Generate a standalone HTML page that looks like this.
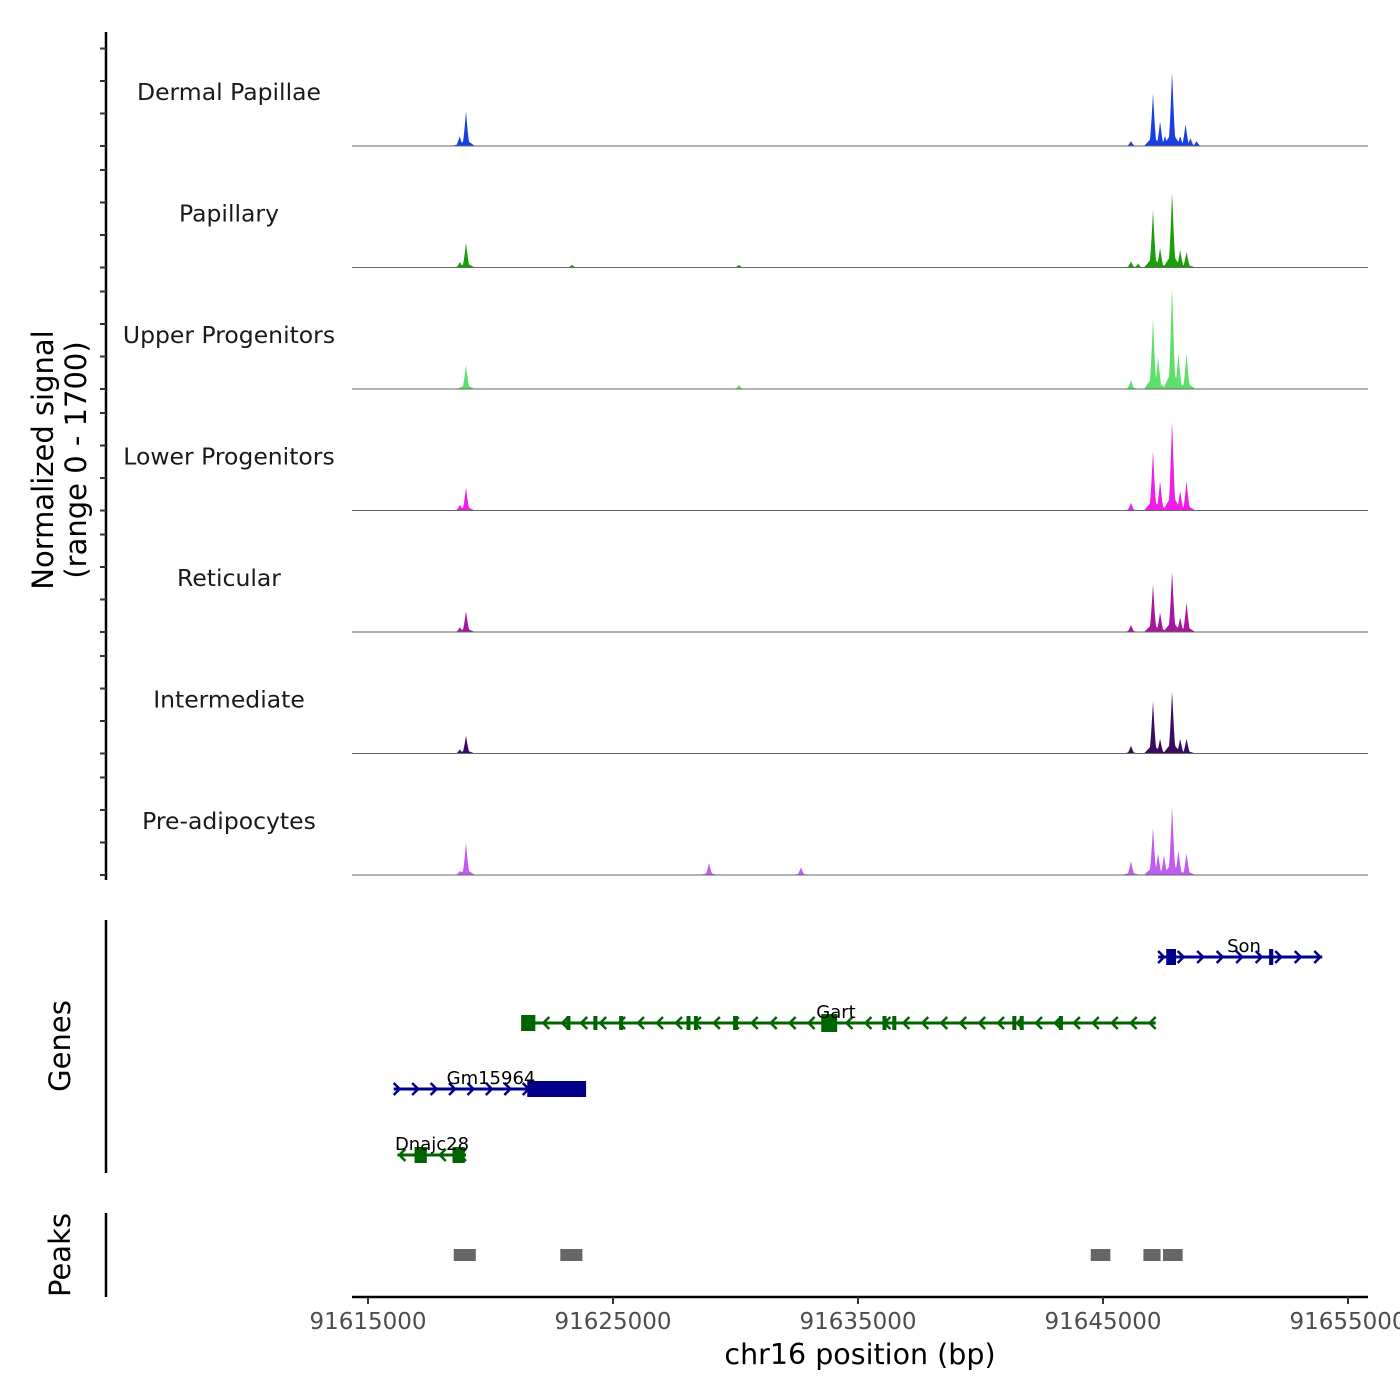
<!DOCTYPE html>
<html><head><meta charset="utf-8"><style>
body{margin:0;background:#fff}
svg{display:block;font-family:"DejaVu Sans","Liberation Sans",sans-serif}
</style></head><body>
<svg id="chart" width="1400" height="1400" viewBox="0 0 1400 1400"></svg>
<script>
const NS="http://www.w3.org/2000/svg";
const svg=document.getElementById('chart');
// ---- data ----
const trackNames=["Dermal Papillae","Papillary","Upper Progenitors","Lower Progenitors","Reticular","Intermediate","Pre-adipocytes"];
const trackColors=["#1a3fe0","#1a9e0a","#5de06a","#f01de6","#a8169e","#3b0c5e","#c05af0"];
const peakPos=[[91618740,91619000,91647040,91647330,91647530,91647820,91648150,91648370,91648570,91646140,91648820],
[91619000,91618750,91647040,91647330,91647820,91648150,91648410,91646140,91646430,91623330,91630140],
[91619000,91647040,91647250,91647820,91648080,91648410,91646140,91630140],
[91619000,91618750,91647040,91647330,91647820,91648150,91648410,91646140],
[91619000,91618750,91647040,91647330,91647820,91648150,91648410,91646140],
[91619000,91618750,91647040,91647330,91647820,91648150,91648410,91646140],
[91619000,91618750,91647040,91647250,91647490,91647820,91648080,91648410,91646140,91628920,91632670]];
const peakVal=[[140,490,740,350,140,1060,140,310,110,70,70],
[350,80,810,280,1075,250,225,85,55,40,40],
[335,990,460,1480,490,500,125,55],
[320,85,840,420,1285,280,420,110],
[295,70,670,280,865,210,420,100],
[250,60,740,210,895,210,210,110],
[450,60,670,310,280,980,350,310,195,170,110]];
const xTicks=[91615000,91625000,91635000,91645000,91655000];
const peakRegions=[[91618500,91619400],[91622850,91623750],[91644500,91645300],[91646650,91647350],[91647450,91648250]];
const genes=[
 {name:"Son",strand:1,s:91647250,e:91653950,y:957,c:"#00008b",ex:[[91647580,91647980,16],[91651780,91651950,16]],lx:1244},
 {name:"Gart",strand:-1,s:91621300,e:91647150,y:1023,c:"#006400",ex:[[91621250,91621830,16],[91623100,91623250,14],[91624200,91624350,14],[91625250,91625400,14],[91628000,91628150,14],[91628300,91628450,14],[91629900,91630100,14],[91633500,91634150,18],[91636000,91636150,14],[91636400,91636550,14],[91641300,91641400,14],[91641600,91641700,14],[91643200,91643350,14]],lx:836},
 {name:"Gm15964",strand:1,s:91616050,e:91623900,y:1089,c:"#00008b",ex:[[91621500,91623900,16]],lx:491},
 {name:"Dnajc28",strand:-1,s:91616200,e:91619000,y:1155,c:"#006400",ex:[[91616900,91617400,16],[91618450,91618950,16]],lx:432}
];
// ---- scales ----
const X0=91615000,PX0=368,PPK=24.5;
const xs=v=>PX0+(v-X0)/1000*PPK;
const base0=146,trackH=121.5,maxV=1700;
function el(tag,attrs,parent){const e=document.createElementNS(NS,tag);for(const k in attrs)e.setAttribute(k,attrs[k]);(parent||svg).appendChild(e);return e;}
let a=el('line',{x1:106,y1:32,x2:106,y2:880,stroke:'#000','stroke-width':2.5});

for(let t=0;t<7;t++){
 const b=base0+t*trackH;
 for(let k=0;k<4;k++){const y=b-k*32.5;const tk=el('line',{x1:100,y1:y,x2:106,y2:y,stroke:'#333','stroke-width':2});
 }
 const lb=el('text',{x:229,y:100+t*trackH,'text-anchor':'middle','font-size':23.5,fill:'#1a1a1a'});
 lb.textContent=trackNames[t];
 
 const scaleY=trackH/maxV;
 let d=`M352 ${b}`;
 for(let x=352;x<=1368;x+=0.5){
  let h=0;
  peakPos[t].forEach((p,i)=>{const dx=Math.abs(x-xs(p));const w=4;
   if(dx<w){h=Math.max(h,peakVal[t][i]*scaleY*Math.pow(1-dx/w,1.5));}
   const w2=9; if(dx<w2){h=Math.max(h,peakVal[t][i]*scaleY*0.18*(1-dx/w2));}});
  d+=` L${x} ${b-h}`;
 }
 d+=` L1368 ${b} Z`;
 const area=el('path',{d:d,fill:trackColors[t],stroke:'none'});
 
 const bl=el('line',{x1:352,y1:b,x2:1368,y2:b,stroke:'#666','stroke-width':1});
 
}
const ga=el('line',{x1:106,y1:920,x2:106,y2:1173,stroke:'#000','stroke-width':2.5});

genes.forEach(g=>{
 const grp=el('g',{});
 
 el('line',{x1:xs(g.s),y1:g.y,x2:xs(g.e),y2:g.y,stroke:g.c,'stroke-width':3},grp);
 const len=xs(g.e)-xs(g.s);const n=Math.max(2,Math.floor(len/19));
 for(let i=0;i<=n;i++){const x=xs(g.s)+4+i*(len-8)/n;const dir=g.strand;
  el('polyline',{points:`${x-4*dir},${g.y-6} ${x+2*dir},${g.y} ${x-4*dir},${g.y+6}`,fill:'none',stroke:g.c,'stroke-width':2.5},grp);}
 g.ex.forEach(e=>{el('rect',{x:xs(e[0]),y:g.y-e[2]/2,width:Math.max(4,xs(e[1])-xs(e[0])),height:e[2],fill:g.c},grp);});
 const t=el('text',{x:g.lx,y:g.y-5,'text-anchor':'middle','font-size':18,fill:'#000'},grp);t.textContent=g.name;
});
const pa=el('line',{x1:106,y1:1213,x2:106,y2:1297,stroke:'#000','stroke-width':2.5});

peakRegions.forEach(r=>{const rc=el('rect',{x:xs(r[0]),y:1249,width:xs(r[1])-xs(r[0]),height:12,fill:'#666'});
 });
const xa=el('line',{x1:352,y1:1297,x2:1368,y2:1297,stroke:'#000','stroke-width':2.5});

xTicks.forEach(v=>{const x=xs(v);
 const tk=el('line',{x1:x,y1:1297,x2:x,y2:1304,stroke:'#333','stroke-width':2});
 
 const tl=el('text',{x:x,y:1329,'text-anchor':'middle','font-size':23,fill:'#4d4d4d'});tl.textContent=v;
 });
function txt(s,attrs,name){const t=el('text',attrs);t.textContent=s;return t;}
txt('chr16 position (bp)',{x:860,y:1364,'text-anchor':'middle','font-size':28.5,fill:'#000'},'x-axis-title');
txt('Normalized signal',{x:0,y:0,transform:'translate(53,460) rotate(-90)','text-anchor':'middle','font-size':29,fill:'#000'},'y-axis-title');
txt('(range 0 - 1700)',{x:0,y:0,transform:'translate(86,460) rotate(-90)','text-anchor':'middle','font-size':29,fill:'#000'},'y-axis-range');
txt('Genes',{x:0,y:0,transform:'translate(70,1046) rotate(-90)','text-anchor':'middle','font-size':29,fill:'#000'},'genes-title');
txt('Peaks',{x:0,y:0,transform:'translate(70,1255) rotate(-90)','text-anchor':'middle','font-size':29,fill:'#000'},'peaks-title');
</script>
</body></html>
